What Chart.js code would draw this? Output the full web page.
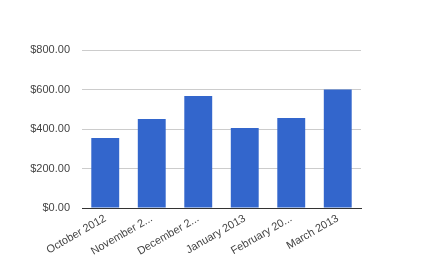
<!DOCTYPE html>
<html>
<head>
<meta charset="utf-8">
<script src="https://cdn.jsdelivr.net/npm/chart.js@4/dist/chart.umd.min.js"></script>
<style>
  html, body { margin: 0; padding: 0; background: #fff; }
  #wrap { width: 442px; height: 258px; }
</style>
</head>
<body>
<div id="wrap"><canvas id="chart" width="442" height="258"></canvas></div>
<script>
// month labels as shown (Google-style truncation)
const months = ["October 2012", "November 2...", "December 2...", "January 2013", "February 20...", "March 2013"];
const amounts = [354, 451, 567, 405, 456, 600];
const yTicks = [0, 200, 400, 600, 800];

const textColor = "#444";
const font = { family: "Arial, 'Liberation Sans', sans-serif", size: 11 };

new Chart(document.getElementById("chart").getContext("2d"), {
    type: "bar",
    data: {
        labels: months,
        datasets: [{
            data: amounts,
            backgroundColor: "#3366cc",
            borderWidth: 0,
            categoryPercentage: 1,
            barPercentage: 0.6
        }]
    },
    options: {
        responsive: false,
        animation: false,
        layout: { padding: { top: 50, right: 81, left: 0, bottom: 0 } },
        plugins: {
            legend: { display: false },
            tooltip: { enabled: false }
        },
        scales: {
            x: {
                grid: { display: false, drawTicks: false },
                border: { display: true, color: "#333", width: 1 },
                ticks: {
                    color: textColor,
                    font: font,
                    autoSkip: false,
                    minRotation: 30,
                    maxRotation: 30,
                    padding: 4
                },
                afterFit: (scale) => { scale.height = 50; }
            },
            y: {
                min: 0,
                max: 800,
                afterBuildTicks: (scale) => { scale.ticks = yTicks.map(v => ({ value: v })); },
                grid: {
                    drawTicks: false,
                    color: (ctx) => ctx.tick && ctx.tick.value === 0 ? "#333" : "#ccc"
                },
                border: { display: false },
                ticks: {
                    color: textColor,
                    font: font,
                    padding: 12,
                    callback: (v) => "$" + Number(v).toFixed(2)
                },
                afterFit: (scale) => { scale.width = 82; }
            }
        }
    }
});
</script>
</body>
</html>
